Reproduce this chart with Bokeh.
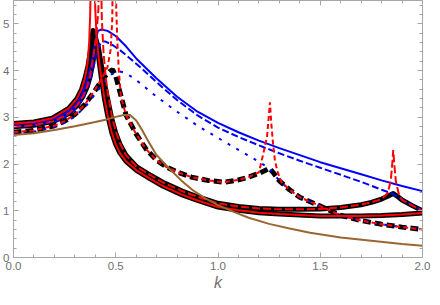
from bokeh.plotting import figure
from bokeh.models import Range1d, LinearAxis, FixedTicker, CustomJSTickFormatter
from bokeh.embed import file_html
from bokeh.resources import INLINE

# ---------------- data ----------------
# blue solid
bs_k = [0, 0.1, 0.2, 0.25, 0.3, 0.33, 0.36, 0.38, 0.40, 0.413, 0.43, 0.46, 0.5, 0.55, 0.6, 0.7, 0.8, 0.9,
        1.0, 1.1, 1.2, 1.3, 1.4, 1.5, 1.6, 1.7, 1.8, 1.9, 2.0]
bs_y = [2.85, 2.88, 2.97, 3.07, 3.24, 3.44, 3.78, 4.12, 4.62, 4.85, 4.88, 4.85, 4.74, 4.52, 4.26, 3.83, 3.44, 3.12,
        2.88, 2.68, 2.50, 2.34, 2.19, 2.04, 1.91, 1.78, 1.65, 1.53, 1.42]
# blue dashed
bd_k = [0, 0.1, 0.2, 0.25, 0.3, 0.34, 0.37, 0.39, 0.41, 0.43, 0.45, 0.48, 0.52, 0.57, 0.62, 0.7, 0.8, 0.9,
        1.0, 1.1, 1.2, 1.3, 1.4, 1.5, 1.6, 1.7, 1.8, 1.85, 1.9, 1.95, 2.0]
bd_y = [2.79, 2.82, 2.91, 3.00, 3.17, 3.40, 3.72, 4.05, 4.45, 4.62, 4.62, 4.56, 4.44, 4.26, 4.07, 3.75, 3.37, 3.04,
        2.78, 2.58, 2.40, 2.23, 2.07, 1.92, 1.77, 1.62, 1.45, 1.37, 1.24, 1.12, 1.00]
# blue dotted
bt_k = [0, 0.1, 0.2, 0.25, 0.3, 0.35, 0.4, 0.44, 0.48, 0.51, 0.54, 0.58, 0.62, 0.66, 0.7, 0.8, 0.9, 1.0,
        1.07, 1.15, 1.2, 1.25, 1.3, 1.35, 1.4, 1.5, 1.6, 1.7, 1.8, 1.9, 2.0]
bt_y = [2.65, 2.69, 2.79, 2.88, 3.02, 3.22, 3.50, 3.74, 3.92, 3.99, 3.96, 3.86, 3.73, 3.58, 3.44, 3.12, 2.82, 2.56,
        2.38, 2.18, 2.05, 1.91, 1.64, 1.45, 1.29, 1.10, 0.90, 0.79, 0.71, 0.65, 0.60]
# black solid 1
k1_k = [0, 0.1, 0.19, 0.27, 0.31, 0.333, 0.35, 0.365, 0.377, 0.389, 0.40, 0.413, 0.429, 0.444, 0.46, 0.48, 0.5,
        0.52, 0.55, 0.603, 0.667, 0.73, 0.825, 0.9, 1.0, 1.1, 1.2, 1.3, 1.4, 1.5, 1.6, 1.7, 1.8, 1.9, 2.0]
k1_y = [2.87, 2.90, 2.98, 3.19, 3.40, 3.60, 3.84, 4.11, 4.45, 4.86, 4.75, 4.40, 3.86, 3.42, 3.05, 2.68, 2.42,
        2.24, 2.06, 1.86, 1.69, 1.53, 1.34, 1.22, 1.08, 1.01, 0.96, 0.93, 0.91, 0.89, 0.89, 0.89, 0.90, 0.92, 0.95]
# black solid 2
k2_k = [0, 0.1, 0.2, 0.27, 0.31, 0.34, 0.36, 0.375, 0.39, 0.405, 0.415, 0.43, 0.445, 0.46, 0.48, 0.5, 0.52, 0.55,
        0.603, 0.667, 0.73, 0.825, 0.9, 1.0, 1.1, 1.2, 1.3, 1.4, 1.5, 1.6, 1.7, 1.75, 1.8, 1.83, 1.857, 1.88, 1.9,
        1.95, 2.0]
k2_y = [2.80, 2.83, 2.92, 3.08, 3.25, 3.45, 3.65, 3.88, 4.22, 4.64, 4.50, 4.10, 3.72, 3.40, 2.98, 2.66, 2.43, 2.19,
        1.94, 1.77, 1.61, 1.42, 1.30, 1.16, 1.09, 1.05, 1.03, 1.03, 1.04, 1.07, 1.13, 1.18, 1.25, 1.31, 1.37, 1.30, 1.23,
        1.11, 1.00]
# black dashed
kd_k = [0, 0.1, 0.2, 0.25, 0.3, 0.35, 0.4, 0.44, 0.47, 0.485, 0.5, 0.52, 0.55, 0.6, 0.65, 0.7, 0.75, 0.8, 0.87,
        0.95, 1.03, 1.1, 1.15, 1.2, 1.23, 1.25, 1.27, 1.3, 1.35, 1.4, 1.5, 1.6, 1.7, 1.8, 1.9, 2.0]
kd_y = [2.68, 2.72, 2.82, 2.92, 3.06, 3.28, 3.58, 3.85, 3.98, 4.02, 3.88, 3.55, 3.05, 2.64, 2.31, 2.08, 1.93, 1.83,
        1.72, 1.65, 1.61, 1.66, 1.72, 1.80, 1.86, 1.91, 1.82, 1.64, 1.45, 1.29, 1.10, 0.90, 0.79, 0.71, 0.65, 0.60]
# red solid
rs_k = [0, 0.1, 0.19, 0.27, 0.31, 0.333, 0.35, 0.362, 0.37, 0.375, 0.379, 0.382, 0.392, 0.396, 0.40, 0.406, 0.413,
        0.42, 0.429, 0.444, 0.46, 0.48, 0.5, 0.52, 0.55, 0.603, 0.667, 0.73, 0.825, 0.9, 1.0, 1.1, 1.2, 1.3, 1.4,
        1.5, 1.6, 1.7, 1.8, 1.9, 2.0]
rs_y = [2.87, 2.90, 2.98, 3.19, 3.40, 3.60, 3.85, 4.15, 4.60, 5.20, 6.20, 9.00, 9.00, 6.00, 5.30, 4.75, 4.42,
        4.15, 3.86, 3.42, 3.05, 2.68, 2.42, 2.24, 2.06, 1.86, 1.69, 1.53, 1.34, 1.22, 1.08, 1.01, 0.96, 0.93, 0.91,
        0.89, 0.89, 0.89, 0.90, 0.92, 0.95]
# red dashed
rd_k = [0, 0.1, 0.2, 0.27, 0.31, 0.34, 0.36, 0.375, 0.39, 0.405, 0.415, 0.419, 0.422, 0.425, 0.427, 0.432, 0.44,
        0.45, 0.46, 0.48, 0.5, 0.52, 0.55, 0.603, 0.667, 0.73, 0.825, 0.9, 1.0, 1.1, 1.2, 1.3, 1.4, 1.5, 1.6, 1.7,
        1.75, 1.8, 1.83, 1.845, 1.852, 1.857, 1.862, 1.87, 1.885, 1.9, 1.95, 2.0]
rd_y = [2.80, 2.83, 2.92, 3.08, 3.25, 3.45, 3.66, 3.90, 4.28, 4.75, 5.30, 6.50, 9.00, 9.00, 6.20, 5.10, 4.40,
        3.90, 3.55, 3.05, 2.70, 2.45, 2.19, 1.94, 1.77, 1.61, 1.42, 1.30, 1.16, 1.09, 1.05, 1.03, 1.03, 1.04, 1.07, 1.13,
        1.18, 1.25, 1.38, 1.65, 2.00, 2.30, 2.00, 1.62, 1.35, 1.23, 1.11, 1.00]
# red dotted
rt_k = [0, 0.1, 0.2, 0.25, 0.3, 0.35, 0.4, 0.44, 0.46, 0.475, 0.483, 0.488, 0.492, 0.497, 0.502, 0.508, 0.515,
        0.525, 0.55, 0.6, 0.65, 0.7, 0.75, 0.8, 0.87, 0.95, 1.03, 1.1, 1.15, 1.2, 1.222, 1.24, 1.25, 1.254, 1.26,
        1.27, 1.278, 1.29, 1.31, 1.35, 1.4, 1.5, 1.6, 1.7, 1.8, 1.9, 2.0]
rt_y = [2.68, 2.72, 2.82, 2.92, 3.06, 3.28, 3.60, 3.90, 4.08, 4.45, 5.10, 7.00, 9.00, 7.00, 5.40, 4.60, 4.00,
        3.45, 3.05, 2.64, 2.31, 2.08, 1.93, 1.83, 1.72, 1.65, 1.61, 1.66, 1.72, 1.82, 2.23, 2.60, 3.10, 3.32, 2.90,
        2.40, 2.09, 1.85, 1.61, 1.45, 1.29, 1.10, 0.90, 0.79, 0.71, 0.65, 0.60]
# brown
br_k = [0, 0.1, 0.2, 0.3, 0.4, 0.45, 0.5, 0.54, 0.57, 0.6, 0.63, 0.66, 0.7, 0.76, 0.82, 0.88, 0.94, 1.0, 1.08,
        1.15, 1.25, 1.35, 1.45, 1.6, 1.75, 1.9, 2.0]
br_y = [2.62, 2.66, 2.73, 2.81, 2.90, 2.95, 3.01, 3.05, 3.05, 2.93, 2.72, 2.48, 2.19, 1.91, 1.65, 1.43, 1.26, 1.12,
        0.97, 0.85, 0.72, 0.62, 0.53, 0.43, 0.36, 0.29, 0.25]

# ticks
x_major = [0.0, 0.5, 1.0, 1.5, 2.0]
x_labels = ["0.0", "0.5", "1.0", "1.5", "2.0"]
x_minor = [0.1, 0.2, 0.3, 0.4, 0.6, 0.7, 0.8, 0.9, 1.1, 1.2, 1.3, 1.4, 1.6, 1.7, 1.8, 1.9]
y_major = [0, 1, 2, 3, 4, 5]
y_labels = ["0", "1", "2", "3", "4", "5"]
y_minor = [0.2, 0.4, 0.6, 0.8, 1.2, 1.4, 1.6, 1.8, 2.2, 2.4, 2.6, 2.8, 3.2, 3.4, 3.6, 3.8,
           4.2, 4.4, 4.6, 4.8, 5.2, 5.4]
x_title = "k"

# ---------------- figure ----------------
p = figure(width=432, height=297, x_range=Range1d(0, 2), y_range=Range1d(0, 5.5),
           output_backend="svg", toolbar_location=None,
           min_border_left=8, min_border_right=10, min_border_top=0, min_border_bottom=40,
           background_fill_color="white", border_fill_color="white", outline_line_color=None)
p.xgrid.visible = False
p.ygrid.visible = False

bottom = p.below[0]
left = p.left[0]

AX = "#a6a6a6"
LBL = "#707070"
code = """
let best = -1, d = 1e9;
for (let i = 0; i < tv.length; i++) { const e = Math.abs(tv[i] - tick); if (e < d) { d = e; best = i; } }
return d < 1e-6 ? tl[best] : '';
"""
xfmt = CustomJSTickFormatter(args=dict(tv=x_major, tl=x_labels), code=code)
yfmt = CustomJSTickFormatter(args=dict(tv=y_major, tl=y_labels), code=code)

top = LinearAxis(formatter=CustomJSTickFormatter(code="return '';"))
right = LinearAxis(formatter=CustomJSTickFormatter(code="return '';"))
p.add_layout(top, "above")
p.add_layout(right, "right")

bottom.formatter = xfmt
left.formatter = yfmt

for ax, tk in [(bottom, (x_major, x_minor)), (left, (y_major, y_minor)),
               (top, (x_major, x_minor)), (right, (y_major, y_minor))]:
    ax.ticker = FixedTicker(ticks=tk[0], minor_ticks=tk[1])
    ax.axis_line_color = AX
    ax.major_tick_line_color = AX
    ax.minor_tick_line_color = AX
    ax.major_tick_in = 5
    ax.major_tick_out = 0
    ax.minor_tick_in = 3
    ax.minor_tick_out = 0
    ax.major_label_text_color = LBL
    ax.major_label_text_font = "Liberation Sans"
    ax.major_label_text_font_size = "11.5px"
    ax.major_label_standoff = 4

top.major_label_standoff = 0
right.major_label_standoff = 0
left.major_label_standoff = 4
bottom.major_label_standoff = 4

bottom.axis_label = x_title
bottom.axis_label_text_font = "Liberation Sans"
bottom.axis_label_text_font_style = "italic"
bottom.axis_label_text_font_size = "16px"
bottom.axis_label_text_color = LBL
bottom.axis_label_standoff = 1

BLUE = "#0000ff"
RED = "#ff0000"
BROWN = "#996633"

# black
p.line(k1_k, k1_y, line_color="black", line_width=5, line_join="round")
p.line(k2_k, k2_y, line_color="black", line_width=5, line_join="round")
p.line(kd_k, kd_y, line_color="black", line_width=5, line_dash="8 4")
# blue
p.line(bs_k, bs_y, line_color=BLUE, line_width=2)
p.line(bd_k, bd_y, line_color=BLUE, line_width=2, line_dash="7 3")
p.line(bt_k, bt_y, line_color=BLUE, line_width=2, line_dash="3 7")
# red
p.line(rs_k, rs_y, line_color=RED, line_width=2)
p.line(rd_k, rd_y, line_color=RED, line_width=2, line_dash="8 3")
p.line(rt_k, rt_y, line_color=RED, line_width=2, line_dash="5 3")
# brown
p.line(br_k, br_y, line_color=BROWN, line_width=2)

open("out.html", "w").write(file_html(p, INLINE))
